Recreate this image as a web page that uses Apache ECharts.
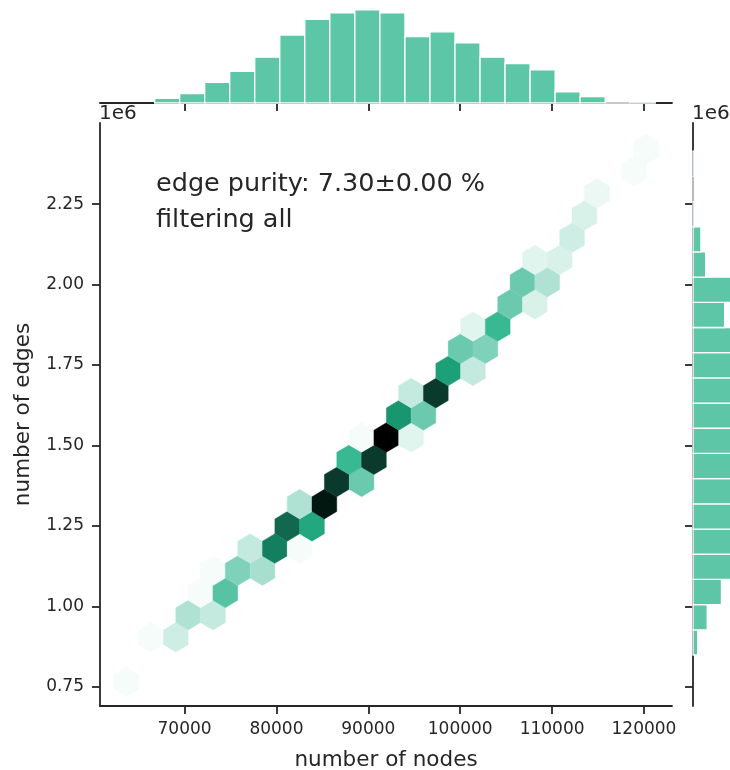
<!DOCTYPE html>
<html><head><meta charset="utf-8">
<script src="https://cdn.jsdelivr.net/npm/echarts@6/dist/echarts.min.js"></script>
<style>html,body{margin:0;padding:0;background:#fff}#c{width:730px;height:770px}</style>
</head><body><div id="c"></div>
<script>
// ---- data ----
const xTicks = [70000, 80000, 90000, 100000, 110000, 120000];
const yTicks = [750000, 1000000, 1250000, 1500000, 1750000, 2000000, 2250000];

// hexbin cells: centre (nodes, edges) and count
const hexX = [
  63660,
  66355, 69050,
  70398, 73093,
  71745, 74440,
  73093, 75788, 78483,
  77135, 79830, 82525,
  81178, 83873,
  82525, 85220,
  86568, 89263,
  87915, 90610,
  89263, 91958, 94653,
  93305, 96000,
  94653, 97348,
  98695, 101390,
  100043, 102738,
  101390, 104085,
  105433, 108128,
  106780, 109475,
  108128, 110823,
  112170,
  113518,
  114865,
  118908,
  120255
];
const hexY = [
  765500,
  903500, 903500,
  972500, 972500,
  1041500, 1041500,
  1110500, 1110500, 1110500,
  1179400, 1179400, 1179400,
  1248400, 1248400,
  1317400, 1317400,
  1386400, 1386400,
  1455400, 1455400,
  1524400, 1524400, 1524400,
  1593400, 1593400,
  1662400, 1662400,
  1731400, 1731400,
  1800400, 1800400,
  1869300, 1869300,
  1938300, 1938300,
  2007300, 2007300,
  2076300, 2076300,
  2145300,
  2214300,
  2283300,
  2352200,
  2421200
];
const hexCount = [
  1,
  1, 5,
  8, 6,
  1, 17,
  1, 13, 9,
  6, 27, 1,
  29, 23,
  8, 36,
  33, 15,
  20, 33,
  1, 38, 3,
  25, 15,
  6, 33,
  24, 6,
  15, 13,
  3, 20,
  15, 4,
  15, 8,
  3, 4,
  5,
  4,
  2,
  1,
  1
];

// marginal histogram of nodes (top)
const nodeBinEdges = [66746, 69470, 72194, 74918, 77642, 80366, 83090, 85814, 88538, 91262, 93986,
  96710, 99434, 102158, 104882, 107606, 110330, 113054, 115778, 118502, 121226];
const nodeBinCounts = [3, 6, 13, 20, 29, 43, 53, 57, 59, 57, 42, 45, 38, 29, 25, 21, 7, 4, 0, 1];

// marginal histogram of edges (right)
const edgeBinEdges = [848500, 926800, 1005100, 1083400, 1161700, 1240000, 1318300, 1396600, 1474900,
  1553200, 1631500, 1709800, 1788100, 1866400, 1944700, 2023000, 2101300, 2179600, 2257900, 2336200, 2414500];
const edgeBinCounts = [3, 9, 18, 30, 40, 47, 52, 55, 56, 54, 50, 45, 38, 20, 24, 8, 5, 1, 0, 1];

// ---- styling ----
const TXT = '#262626';
const FONT = 'DejaVu Sans';
const BAR = '#5dc6a6';
const HEX_HW = 1347.5;   // half hex width (nodes)
const HEX_HV = 46000;    // hex vertex height (edges)

function hls2rgb(h, l, s) {
  function v(m1, m2, hue) {
    hue = ((hue % 1) + 1) % 1;
    if (hue < 1/6) return m1 + (m2 - m1) * hue * 6;
    if (hue < 0.5) return m2;
    if (hue < 2/3) return m1 + (m2 - m1) * (2/3 - hue) * 6;
    return m1;
  }
  const m2 = l <= 0.5 ? l * (1 + s) : l + s - l * s;
  const m1 = 2 * l - m2;
  const c = [v(m1, m2, h + 1/3), v(m1, m2, h), v(m1, m2, h - 1/3)].map(x => Math.round(Math.max(0, Math.min(1, x)) * 255));
  return 'rgb(' + c.join(',') + ')';
}
function satFor(l) {
  if (l >= 0.5) return 0.47;
  if (l >= 0.38) return 0.47 + (0.5 - l) / 0.12 * 0.26;
  return 0.72;
}
const cmap = [];
for (let i = 0; i < 12; i++) { const l = 1 - i / 11; cmap.push(hls2rgb(162/360, l, satFor(l))); }

const hexData = hexX.map((x, i) => [x, hexY[i], hexCount[i]]);
const nodeData = nodeBinCounts.map((c, i) => [nodeBinEdges[i], nodeBinEdges[i + 1], c]);
const edgeData = edgeBinCounts.map((c, i) => [edgeBinEdges[i], edgeBinEdges[i + 1], c]);

const axisLine = {show: true, lineStyle: {color: TXT, width: 1.8}};
const tickStyle = {length: 8, lineStyle: {color: TXT, width: 1.8}};

const chart = echarts.init(document.getElementById('c'), null, {renderer: 'canvas'});
chart.setOption({
  animation: false,
  backgroundColor: '#fff',
  textStyle: {fontFamily: FONT},
  grid: [
    {left: 100, top: 123, width: 572, height: 583, outerBoundsMode: 'none', containLabel: false},
    {left: 100, top: 5, width: 572, height: 98, outerBoundsMode: 'none', containLabel: false},
    {left: 693, top: 123, width: 37, height: 583, outerBoundsMode: 'none', containLabel: false}
  ],
  xAxis: [
    {gridIndex: 0, type: 'value', min: 60800, max: 123050,
     axisLine: axisLine, splitLine: {show: false},
     axisTick: Object.assign({show: true, customValues: xTicks}, tickStyle),
     axisLabel: {customValues: xTicks, fontSize: 17, color: TXT, fontFamily: FONT, margin: 15,
                 formatter: v => String(v)},
     name: 'number of nodes', nameLocation: 'middle', nameGap: 43,
     nameTextStyle: {fontSize: 21.5, color: TXT, fontFamily: FONT}},
    {gridIndex: 1, type: 'value', min: 60800, max: 123050,
     axisLine: axisLine, splitLine: {show: false},
     axisTick: Object.assign({show: true, customValues: xTicks}, tickStyle),
     axisLabel: {show: false}},
    {gridIndex: 2, type: 'value', min: 0, max: 23.4, show: false}
  ],
  yAxis: [
    {gridIndex: 0, type: 'value', min: 690000, max: 2502000,
     axisLine: axisLine, splitLine: {show: false},
     axisTick: Object.assign({show: true, customValues: yTicks}, tickStyle),
     axisLabel: {customValues: yTicks, fontSize: 17, color: TXT, fontFamily: FONT, margin: 16,
                 formatter: v => (v / 1e6).toFixed(2)},
     name: 'number of edges', nameLocation: 'middle', nameGap: 66,
     nameTextStyle: {fontSize: 21.5, color: TXT, fontFamily: FONT}},
    {gridIndex: 1, type: 'value', min: 0, max: 62, show: false},
    {gridIndex: 2, type: 'value', min: 690000, max: 2502000,
     axisLine: axisLine, splitLine: {show: false},
     axisTick: Object.assign({show: true, customValues: yTicks}, tickStyle),
     axisLabel: {show: false}}
  ],
  visualMap: {type: 'continuous', show: false, min: 0, max: 38, dimension: 2, seriesIndex: 0,
              inRange: {color: cmap}},
  series: [
    {type: 'custom', xAxisIndex: 0, yAxisIndex: 0, data: hexData, encode: {x: 0, y: 1},
     renderItem: function (params, api) {
       const x = api.value(0), y = api.value(1);
       const pts = [[x + HEX_HW, y - HEX_HV / 2], [x + HEX_HW, y + HEX_HV / 2], [x, y + HEX_HV],
                    [x - HEX_HW, y + HEX_HV / 2], [x - HEX_HW, y - HEX_HV / 2], [x, y - HEX_HV]]
                   .map(p => api.coord(p));
       const col = api.visual('color');
       return {type: 'polygon', shape: {points: pts}, style: {fill: col, stroke: col, lineWidth: 0.4}};
     }},
    {type: 'custom', xAxisIndex: 1, yAxisIndex: 1, data: nodeData, encode: {x: [0, 1], y: 2},
     renderItem: function (params, api) {
       const p0 = api.coord([api.value(0), api.value(2)]);
       const p1 = api.coord([api.value(1), 0]);
       return {type: 'rect', shape: {x: p0[0], y: p0[1], width: p1[0] - p0[0], height: p1[1] - p0[1]},
               style: {fill: BAR, stroke: '#fff', lineWidth: 1.3}};
     }},
    {type: 'custom', xAxisIndex: 2, yAxisIndex: 2, data: edgeData, encode: {y: [0, 1], x: 2},
     renderItem: function (params, api) {
       const p0 = api.coord([0, api.value(1)]);
       const p1 = api.coord([api.value(2), api.value(0)]);
       return {type: 'rect', shape: {x: p0[0], y: p0[1], width: p1[0] - p0[0], height: p1[1] - p0[1]},
               style: {fill: BAR, stroke: '#fff', lineWidth: 1.3}};
     }}
  ],
  graphic: [
    {type: 'text', left: 99, top: 104, style: {text: '1e6', fontSize: 20, fill: TXT, fontFamily: FONT}},
    {type: 'text', left: 692, top: 104, style: {text: '1e6', fontSize: 20, fill: TXT, fontFamily: FONT}},
    {type: 'text', left: 156, top: 171, style: {text: 'edge purity: 7.30±0.00 %', fontSize: 25.5, fill: TXT, fontFamily: FONT}},
    {type: 'text', left: 156, top: 207, style: {text: 'filtering all', fontSize: 25.5, fill: TXT, fontFamily: FONT}}
  ]
});
</script></body></html>
